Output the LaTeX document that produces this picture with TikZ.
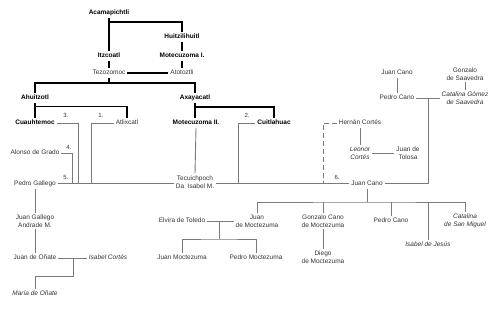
\documentclass[tikz,border=0pt]{standalone}
\usepackage{fontspec}
\setmainfont{Liberation Sans}
\definecolor{ln}{HTML}{7A7A7A}
\definecolor{tx}{HTML}{333333}
\begin{document}
\begin{tikzpicture}[x=1pt,y=-1pt,
  base/.style={inner sep=1pt, outer sep=1pt, font=\fontsize{6.5}{8}\selectfont, text=tx, align=center},
  nm/.style={base, text height=4.8pt, text depth=1.4pt},
  nm2/.style={base},
  bnm/.style={nm, font=\fontsize{6.5}{8}\selectfont\bfseries, text=black},
  inm/.style={nm, font=\fontsize{6.5}{8}\selectfont\itshape},
  inm2/.style={nm2, font=\fontsize{6.5}{8}\selectfont\itshape},
  num/.style={inner sep=0pt, font=\fontsize{6}{7}\selectfont, text=tx},
  bl/.style={line width=1.15pt, black},
  gl/.style={line width=0.9pt, ln},
]
\fill[white] (0,0) rectangle (500,310);
\useasboundingbox (0,0) rectangle (500,310);

% --- names ---
\node[bnm] (acam) at (109,13) {Acamapichtli};
\node[bnm] (huit) at (182,37) {Huitzilihuitl};
\node[bnm] (itz) at (109,56) {Itzcoatl};
\node[bnm] (mot1) at (182,56) {Motecuzoma I.};
\node[nm] (tez) at (109,73) {Tezozomoc};
\node[nm] (atot) at (182,73) {Atotoztli};
\node[bnm] (ahu) at (35,98) {Ahuitzotl};
\node[bnm] (axa) at (195,98) {Axayacatl};
\node[bnm] (cuau) at (35,123) {Cuauhtemoc};
\node[nm] (atl) at (127,123) {Atlixcatl};
\node[bnm] (mot2) at (196,123) {Motecuzoma II.};
\node[bnm] (cuit) at (274,123) {Cuitlahuac};
\node[nm] (alonso) at (35,153) {Alonso de Grado};
\node[nm] (pedrog) at (35,183.5) {Pedro Gallego};
\node[nm2] (tec) at (195,182) {Tecuichpoch\\Da\ \ Isabel M.};
\node[nm] (jcano1) at (397,73) {Juan Cano};
\node[nm] (pcano1) at (397,98) {Pedro Cano};
\node[nm2] (gonz) at (465,74) {Gonzalo\\de Saavedra};
\node[inm2] (catg) at (465,98) {Catalina Gómez\\de Saavedra};
\node[nm] (hernan) at (360,123) {Hernán Cortés};
\node[inm2] (leonor) at (360,153) {Leonor\\Cortés};
\node[nm2] (tolosa) at (408,153) {Juan de\\Tolosa};
\node[nm] (jcano2) at (367,183.5) {Juan Cano};
\node[nm] (elvira) at (182,221) {Elvira de Toledo};
\node[nm2] (juanm) at (257,221) {Juan\\de Moctezuma};
\node[nm2] (gonzc) at (323,221) {Gonzalo Cano\\de Moctezuma};
\node[nm] (pcano2) at (391,221) {Pedro Cano};
\node[inm2] (catsm) at (465,221) {Catalina\\de San Miguel};
\node[inm] (isabj) at (428,245) {Isabel de Jesús};
\node[nm2] (diego) at (323,257) {Diego\\de Moctezuma};
\node[nm] (juanmo) at (182,258) {Juan Moctezuma};
\node[nm] (pedromo) at (256,258) {Pedro Moctezuma};
\node[nm2] (juang) at (35,221) {Juan Gallego\\Andrade M.};
\node[nm] (onate) at (35,258) {Juan de Oñate};
\node[inm] (isabc) at (108,258) {Isabel Cortés};
\node[inm] (maria) at (35,294) {María de Oñate};

% --- marriage order numbers ---
\node[num] (n3) at (66,115) {3.};
\node[num] (n1) at (101,115) {1.};
\node[num] (n4) at (69,147) {4.};
\node[num] (n5) at (66,177) {5.};
\node[num] (n2) at (247,115) {2.};
\node[num] (n6) at (337,177) {6.};

% --- junction points ---
\coordinate (j1) at (109,22);
\coordinate (j2) at (109,83);
\coordinate (j3) at (35,106.5);
\coordinate (j4) at (195,107);
\coordinate (c3) at (78,183.5);
\coordinate (c1) at (91,183.5);
\coordinate (c4) at (72,183.5);
\coordinate (c2) at (238,183.5);
\coordinate (c6) at (323,183.5);
\coordinate (jm) at (428,98);
\coordinate (jc) at (367,202);
\coordinate (je) at (219,221);
\coordinate (jk) at (219,239);
\coordinate (jo) at (73,258);
\coordinate (jo2) at (73,276);

% --- black (upper) lines ---
\draw[bl] (acam.south) -- (itz.north);
\draw[bl] (j1) -| (huit.north);
\draw[bl] (huit.south) -- (mot1.north);
\draw[bl] (itz.south) -- (tez.north);
\draw[bl] (mot1.south) -- (atot.north);
\draw[bl] (tez.east) -- (atot.west);
\draw[bl] (tez.south) -- (j2);
\draw[bl] (ahu.north) |- (j2) -| (axa.north);
\draw[bl] (ahu.south) -- (cuau.north);
\draw[bl] (j3) -| (atl.north);
\draw[bl] (axa.south) -- (axa.south |- mot2.north);
\draw[bl] (j4) -| (cuit.north);

% --- grey (lower) lines ---
\draw[gl] (mot2.south) -- (tec.north);
\draw[gl] (cuau.east) -| (c3);
\draw[gl] (atl.west) -| (c1);
\draw[gl] (alonso.east) -| (c4);
\draw[gl] (pedrog.east) -- (pedrog.east -| tec.west);
\draw[gl] (cuit.west) -| (c2);
\draw[gl] (pedrog.east -| tec.east) -- (jcano2.west);
\draw[gl, dash pattern=on 5pt off 3pt] (hernan.west) -| (c6);
\draw[gl] (hernan.south) -- (leonor.north);
\draw[gl] (leonor.east) -- (tolosa.west);
\draw[gl] (jcano1.south) -- (pcano1.north);
\draw[gl] (gonz.south) -- (catg.north);
\draw[gl] (pcano1.east) -- (catg.west);
\draw[gl] (jm) |- (jcano2.east);
\draw[gl] (jcano2.south) -- (jc);
\draw[gl] (juanm.north) |- (jc) -| (catsm.north);
\draw[gl] (gonzc.north) -- (gonzc.north |- jc);
\draw[gl] (pcano2.north) -- (pcano2.north |- jc);
\draw[gl] (isabj.north) -- (isabj.north |- jc);
\draw[gl] (elvira.east) -- (juanm.west);
\draw[gl] (je) -- (jk);
\draw[gl] (juanmo.north) |- (jk) -| (pedromo.north);
\draw[gl] (gonzc.south) -- (diego.north);
\draw[gl] (pedrog.south) -- (juang.north);
\draw[gl] (juang.south) -- (onate.north);
\draw[gl] (onate.east) -- (isabc.west);
\draw[gl] (jo) -- (jo2) -| (maria.north);
\end{tikzpicture}
\end{document}
